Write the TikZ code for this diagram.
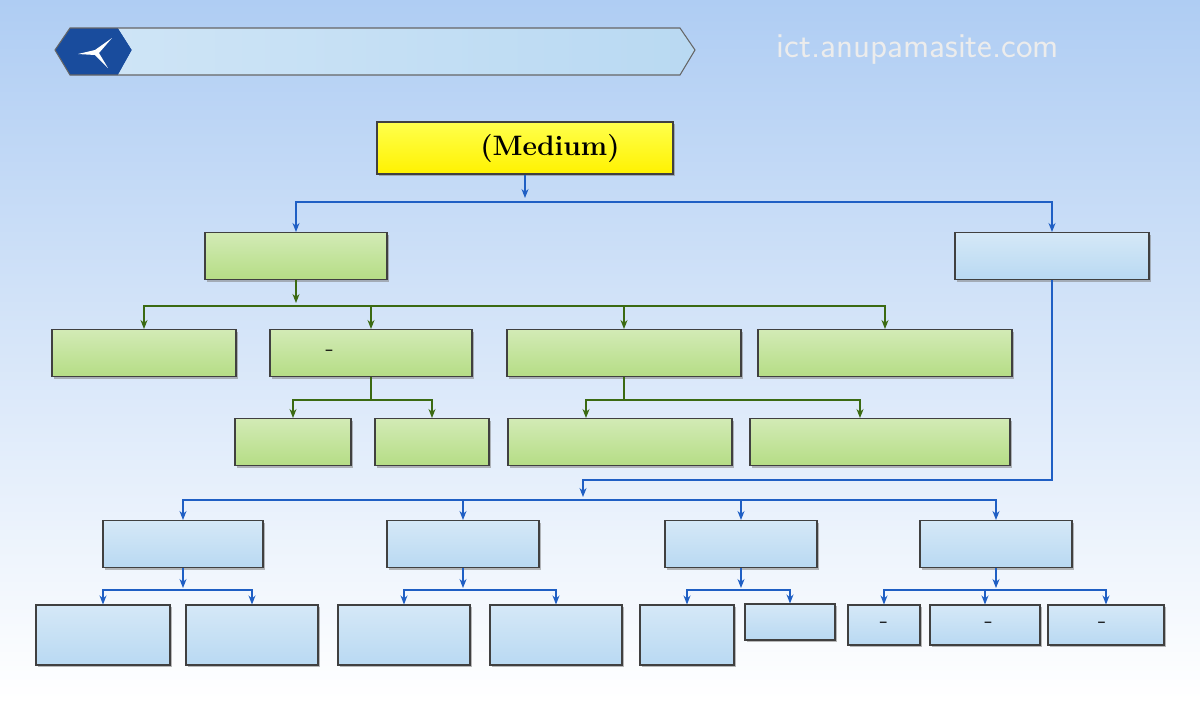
\documentclass[tikz,border=0pt]{standalone}
\usepackage{fontspec}
\usetikzlibrary{shadows,arrows.meta}
\newcommand\bn{}
\definecolor{gfill}{HTML}{B5DD85}
\definecolor{gline}{HTML}{3B6A12}
\definecolor{bfill}{HTML}{B9D9F2}
\definecolor{bline}{HTML}{1F5FC4}
\definecolor{bgtop}{HTML}{AFCDF3}
\tikzset{box/.style={draw=black!75,line width=1.5pt,minimum height=23.5mm,align=center,inner sep=1mm,drop shadow={opacity=0.55,shadow xshift=1.2mm,shadow yshift=-1.2mm},font=\bn\fontsize{38}{44}\selectfont},
  gbox/.style={box,top color=gfill!60,bottom color=gfill},
  bbox/.style={box,top color=bfill!60,bottom color=bfill},
  gl/.style={gline,line width=1.6pt},
  bl/.style={bline,line width=1.6pt}}
\begin{document}
\begin{tikzpicture}[x=0.5mm,y=-0.5mm,>={Stealth[length=4.5mm,width=3.5mm]}]
    \useasboundingbox (0,0) rectangle (1200,700);
    \shade[top color=bgtop,bottom color=white] (0,0) rectangle (1200,700);
    % title banner
    \fill[bline!80!black] (55,50) -- (70,28) -- (118,28) -- (132,50) -- (118,75) -- (70,75) -- cycle;
    \shade[left color=bfill!70,right color=bfill] (118,28) -- (680,28) -- (695,50) -- (680,75) -- (118,75) -- (132,50) -- cycle;
    \draw[black!60,line width=1.5pt] (55,50) -- (70,28) -- (680,28) -- (695,50) -- (680,75) -- (70,75) -- cycle;
    \fill[white] (78,54) -- (95,50) -- (112,38) -- (99,53) -- (108,68) -- (95,55) -- cycle;
    \node[red!80!black,anchor=west,font=\bn\fontsize{44}{50}\selectfont\bfseries] (title) at (148,50) {চিত্রঃ ডেটা কমিউনিকেশন মাধ্যম};
    \node[white!85!gray,font=\sffamily\fontsize{50}{56}\selectfont] (site) at (918,50) {ict.anupamasite.com};
    % nodes
    \node[box,top color=yellow!70,bottom color=yellow!90!orange,minimum width=148mm,minimum height=26mm,font=\fontsize{40}{46}\selectfont\bfseries] (med) at (525,148) {{\bn মাধ্যম} (Medium)};
    \node[gbox,minimum width=91mm] (wire) at (296,256) {তারযুক্ত মাধ্যম};
    \node[bbox,minimum width=97mm] (less) at (1052,256) {তারবিহীন মাধ্যম};
    \node[gbox,minimum width=92mm] (tel) at (144,353) {টেলিফোন লাইন};
    \node[gbox,minimum width=101mm] (coax) at (371,353) {কো-এক্সিয়াল ক্যাবল};
    \node[gbox,minimum width=117mm] (tp) at (624,353) {টুইস্টেড পেয়ার ক্যাবল};
    \node[gbox,minimum width=127mm] (opt) at (885,353) {অপটিক্যাল ফাইবার ক্যাবল};
    \node[gbox,minimum width=58mm] (thick) at (293,442) {থিকনেট};
    \node[gbox,minimum width=57mm] (thin) at (432,442) {থিননেট};
    \node[gbox,minimum width=112mm] (stp) at (620,442) {শিল্ডেড টুইস্টেড পেয়ার};
    \node[gbox,minimum width=130mm] (utp) at (880,442) {আনশিল্ডেড টুইস্টেড পেয়ার};
    \node[bbox,minimum width=80mm] (radio) at (183,544) {বেতার তরঙ্গ};
    \node[bbox,minimum width=76mm] (micro) at (463,544) {মাইক্রোওয়েভ};
    \node[bbox,minimum width=76mm] (ir) at (741,544) {ইনফ্রারেড};
    \node[bbox,minimum width=76mm] (hot) at (996,544) {হটস্পট};
    \node[bbox,minimum width=67mm,minimum height=30mm] (ctrl) at (103,635) {নিয়ন্ত্রিত\\বেতার তরঙ্গ};
    \node[bbox,minimum width=66mm,minimum height=30mm] (unctrl) at (252,635) {অনিয়ন্ত্রিত\\বেতার তরঙ্গ};
    \node[bbox,minimum width=66mm,minimum height=30mm] (terr) at (404,635) {টেরেস্টিরিয়াল\\মাইক্রোওয়েভ};
    \node[bbox,minimum width=66mm,minimum height=30mm] (sat) at (556,635) {স্যাটেলাইট\\মাইক্রোওয়েভ};
    \node[bbox,minimum width=47mm,minimum height=30mm] (p2p) at (687,635) {পয়েন্ট টু\\পয়েন্ট};
    \node[bbox,minimum width=45mm,minimum height=18mm] (bc) at (790,622) {ব্রডকাস্ট};
    \node[bbox,minimum width=36mm,minimum height=20mm] (bt) at (884,625) {ব্লু-টুথ};
    \node[bbox,minimum width=55mm,minimum height=20mm] (wifi) at (985,625) {ওয়াই-ফাই};
    \node[bbox,minimum width=58mm,minimum height=20mm] (wimax) at (1106,625) {ওয়াই-ম্যাক্স};
    % medium
    \draw[bl,->] (med) -- (525,198);
    \draw[bl,->] (525,202) -| (wire);
    \draw[bl,->] (525,202) -| (less);
    % wired
    \draw[gl,->] (wire) -- (296,303);
    \foreach \n in {tel,coax,tp,opt} \draw[gl,->] (296,306) -| (\n);
    \coordinate (cj) at (371,400);
    \draw[gl] (coax) -- (cj);
    \foreach \n in {thick,thin} \draw[gl,->] (cj) -| (\n.north);
    \coordinate (tj) at (624,400);
    \draw[gl] (tp) -- (tj);
    \draw[gl,->] (tj) -| (586,418);
    \draw[gl,->] (tj) -| (860,418);
    % wireless
    \draw[bl,->] (less) |- (583,480) -- (583,497);
    \foreach \n in {radio,micro,ir,hot} \draw[bl,->] (583,500) -| (\n);
    \draw[bl,->] (radio) -- (183,588);
    \foreach \n in {ctrl,unctrl} \draw[bl,->] (183,590) -| (\n);
    \draw[bl,->] (micro) -- (463,588);
    \foreach \n in {terr,sat} \draw[bl,->] (463,590) -| (\n);
    \draw[bl,->] (ir) -- (741,588);
    \foreach \n in {p2p,bc} \draw[bl,->] (741,590) -| (\n);
    \draw[bl,->] (hot) -- (996,588);
    \foreach \n in {bt,wifi,wimax} \draw[bl,->] (996,590) -| (\n);
\end{tikzpicture}
\end{document}
